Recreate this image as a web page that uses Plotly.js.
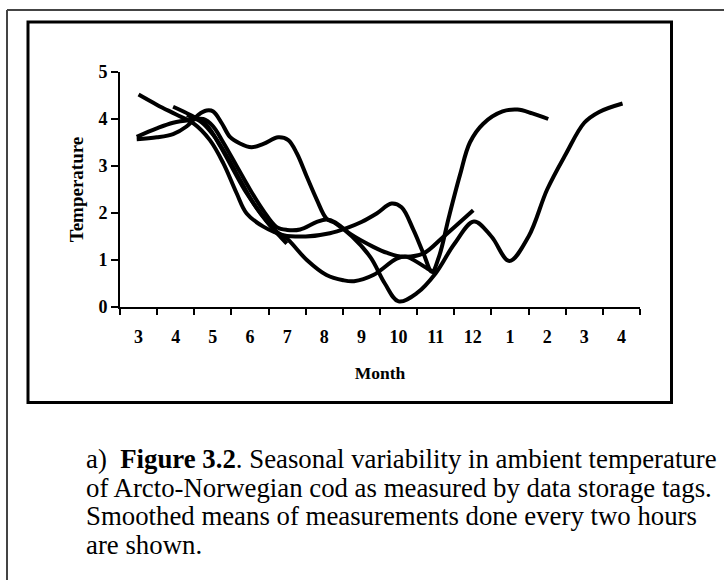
<!DOCTYPE html>
<html>
<head>
<meta charset="utf-8">
<script src="https://cdn.plot.ly/plotly-3.0.1.min.js"></script>
<style>
html,body{margin:0;padding:0;background:#fff;}
#chart{width:724px;height:580px;}
</style>
</head>
<body>
<div id="chart"></div>
<script>
// ---- Data (x = month position index, 0 = first "3" ... 13 = last "4") ----
const monthLabels = ['3','4','5','6','7','8','9','10','11','12','1','2','3','4'];
const monthIdx = [0,1,2,3,4,5,6,7,8,9,10,11,12,13];

const tag1X = [0, 0.5, 1, 1.47, 1.92, 2.28, 2.64, 2.91, 3.36, 3.9, 4.5, 5.15, 5.6, 6.0, 6.41, 6.81, 7.08, 7.4, 7.67, 7.9, 8.1, 8.35, 8.65, 8.92, 9.28, 9.8, 10.2, 10.6, 11.03];
const tag1Y = [4.52, 4.3, 4.1, 3.91, 3.55, 3.06, 2.42, 1.99, 1.71, 1.53, 1.5, 1.57, 1.68, 1.81, 1.99, 2.2, 2.12, 1.64, 1.14, 0.75, 1.1, 1.9, 2.8, 3.5, 3.9, 4.16, 4.2, 4.12, 4.0];

const tag2X = [-0.05, 0.49, 0.93, 1.29, 1.61, 1.83, 2.01, 2.24, 2.46, 2.73, 3.04, 3.36, 3.76, 4.03, 4.26, 4.53, 4.8, 5.06, 5.3, 5.75, 6.25, 6.63, 7.0, 7.5, 8.0, 8.5, 9.03, 9.5, 9.98, 10.5, 11.0, 11.5, 12.0, 12.4, 13.03];
const tag2Y = [3.57, 3.61, 3.68, 3.84, 4.09, 4.18, 4.16, 3.91, 3.62, 3.48, 3.40, 3.47, 3.61, 3.55, 3.27, 2.77, 2.28, 1.88, 1.78, 1.5, 1.05, 0.5, 0.12, 0.3, 0.72, 1.34, 1.82, 1.5, 0.98, 1.5, 2.5, 3.25, 3.92, 4.15, 4.33];

const tag3X = [-0.05, 0.49, 0.93, 1.38, 1.74, 2.0, 2.28, 2.64, 3.0, 3.36, 3.72, 4.0, 4.35, 4.8, 5.06, 5.3, 5.69, 6.32, 6.7, 7.13, 7.67, 8.2, 9.01];
const tag3Y = [3.62, 3.80, 3.92, 3.98, 4.0, 3.85, 3.5, 3.0, 2.5, 2.05, 1.7, 1.64, 1.65, 1.81, 1.86, 1.8, 1.56, 1.28, 1.15, 1.07, 1.14, 1.49, 2.06];

const tag4X = [0.93, 1.38, 1.83, 2.2, 2.55, 2.91, 3.36, 3.72, 4.0, 4.53, 5.06, 5.51, 5.8, 6.32, 6.95, 7.22, 7.49, 7.85, 8.0];
const tag4Y = [4.26, 4.09, 3.87, 3.42, 2.92, 2.42, 1.92, 1.6, 1.45, 1.0, 0.68, 0.57, 0.55, 0.68, 1.03, 1.07, 0.96, 0.78, 0.72];

const tag5X = [1.3, 1.7, 2.05, 2.4, 2.75, 3.1, 3.45, 3.75, 3.99];
const tag5Y = [4.08, 3.93, 3.62, 3.18, 2.68, 2.2, 1.82, 1.55, 1.35];

const yTicks = [0,1,2,3,4,5];

const captionLines = [
  'a)&nbsp; <b>Figure 3.2</b>. Seasonal variability in ambient temperature',
  'of Arcto-Norwegian cod as measured by data storage tags.',
  'Smoothed means of measurements done every two hours',
  'are shown.'
];

// ---- Layout geometry (pixels) ----
const W = 724, H = 580;
const M = {l:120, r:84, t:72, b:273};
const PW = W - M.l - M.r, PH = H - M.t - M.b;
const px = v => (v - M.l) / PW;          // pixel x -> paper x
const py = v => (H - M.b - v) / PH;      // pixel y -> paper y

const FONT = 'Liberation Serif, Times New Roman, serif';
const lineStyle = {color:'#000', width:4, shape:'spline', smoothing:1};

const series = [[tag1X,tag1Y],[tag2X,tag2Y],[tag3X,tag3Y],[tag4X,tag4Y],[tag5X,tag5Y]];
const traces = series.map((s,i) => ({
  x: s[0], y: s[1], type:'scatter', mode:'lines', line: lineStyle,
  name:'Tag '+(i+1), showlegend:false, hoverinfo:'skip'
}));
// carrier trace for the labelled month axis
traces.push({x: monthIdx, y: monthIdx.map(() => null), xaxis:'x2', type:'scatter',
  mode:'lines', showlegend:false, hoverinfo:'skip'});

const boundaries = [];
for (let i = 0; i <= monthLabels.length; i++) boundaries.push(i - 0.5);

const captionAnn = captionLines.map((t, i) => ({
  xref:'paper', yref:'paper', x: px(84), y: py(459 + i*28.5),
  xanchor:'left', yanchor:'middle', showarrow:false, align:'left',
  text: t, font:{family:FONT, size:26.8, color:'#000'}
}));

const layout = {
  width: W, height: H,
  margin: M,
  paper_bgcolor:'#fff', plot_bgcolor:'#fff',
  showlegend:false,
  xaxis: {
    range:[-0.5, monthLabels.length - 0.5], tickmode:'array', tickvals: boundaries,
    showticklabels:false, ticks:'outside', ticklen:6, tickwidth:2, tickcolor:'#000',
    showline:true, linecolor:'#000', linewidth:2, showgrid:false, zeroline:false, fixedrange:true
  },
  xaxis2: {
    overlaying:'x', anchor:'y', side:'bottom',
    range:[-0.5, monthLabels.length - 0.5], tickmode:'array', tickvals: monthIdx, ticktext: monthLabels,
    ticks:'', showline:false, showgrid:false, zeroline:false, ticklabelstandoff: 17,
    tickfont:{family:FONT, size:18, color:'#000', weight:'bold'},
    title:{text:'<b>Month</b>', font:{family:FONT, size:17.5, color:'#000'}, standoff:20},
    fixedrange:true
  },
  yaxis: {
    range:[0,5], tickmode:'array', tickvals: yTicks, ticktext: yTicks.map(String),
    ticks:'outside', ticklen:7, tickwidth:2, tickcolor:'#000',
    showline:true, linecolor:'#000', linewidth:2, showgrid:false, zeroline:false,
    tickfont:{family:FONT, size:18, color:'#000', weight:'bold'},
    title:{text:'<b>Temperature</b>', font:{family:FONT, size:19, color:'#000'}, standoff:10},
    fixedrange:true
  },
  shapes: [
    {type:'rect', xref:'paper', yref:'paper', x0:px(28), x1:px(671.5), y0:py(402.5), y1:py(22),
     line:{color:'#000', width:3}, fillcolor:'rgba(0,0,0,0)', layer:'above'},
    {type:'line', xref:'paper', yref:'paper', x0:px(7), x1:px(7), y0:py(10), y1:py(585),
     line:{color:'#444', width:2}},
    {type:'line', xref:'paper', yref:'paper', x0:px(7), x1:px(730), y0:py(10), y1:py(10),
     line:{color:'#444', width:2}}
  ],
  annotations: captionAnn
};

Plotly.newPlot('chart', traces, layout, {displayModeBar:false, staticPlot:true});
</script>
</body>
</html>
